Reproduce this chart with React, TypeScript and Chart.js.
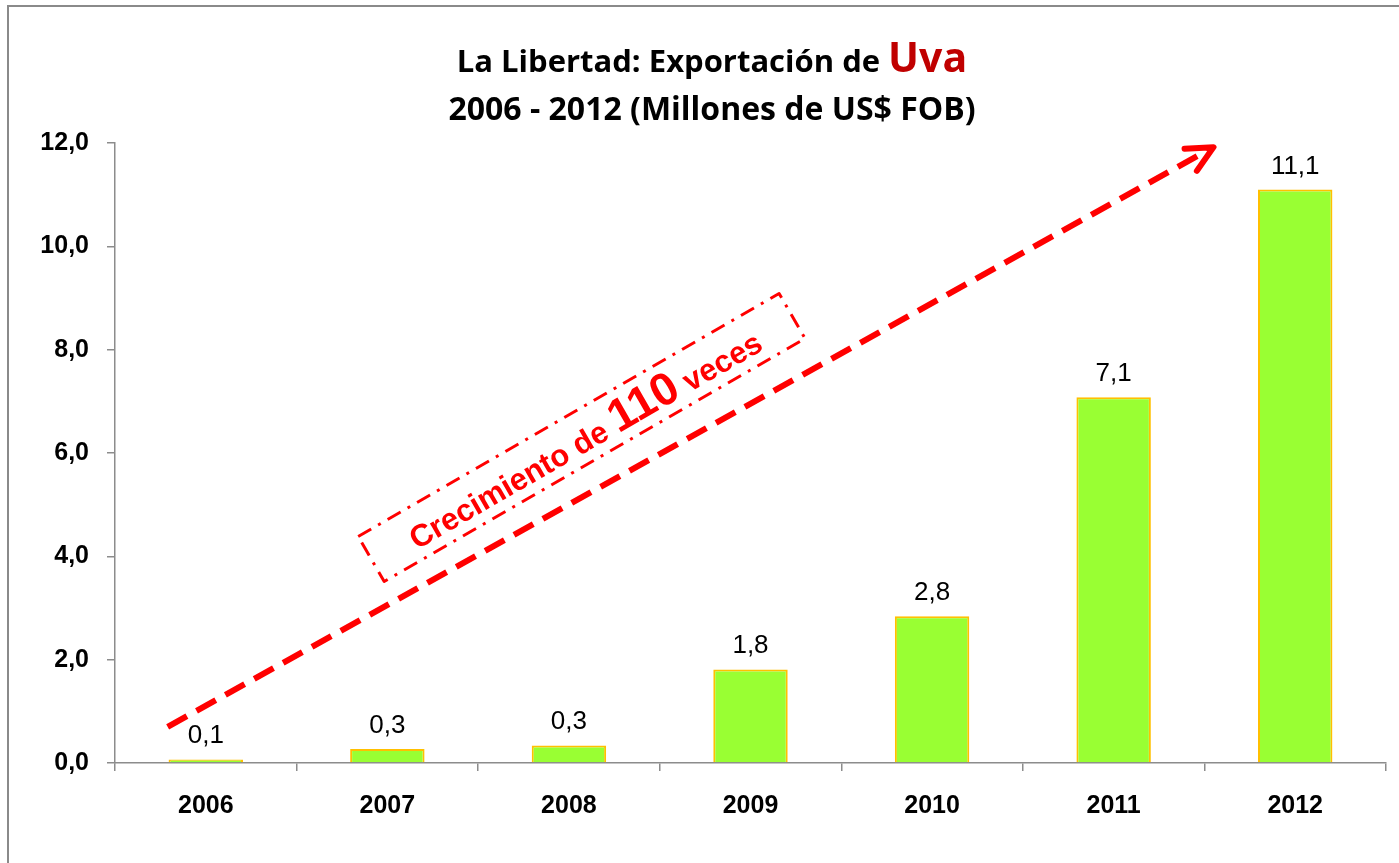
import React, { useEffect, useRef } from 'react';
import { Chart, registerables } from 'chart.js';

Chart.register(...registerables);

const categories = ['2006', '2007', '2008', '2009', '2010', '2011', '2012'];
const exportValues = [0.07, 0.27, 0.34, 1.81, 2.84, 7.08, 11.1];
const yMin = 0;
const yMax = 12;
const yStep = 2;
const titleLine1 = 'La Libertad: Exportación de ';
const titleHighlight = 'Uva';
const titleLine2 = '2006 - 2012 (Millones de US$ FOB)';
const growthPrefix = 'Crecimiento de ';
const growthNumber = '110';
const growthSuffix = ' veces';

const fmt = (v: number) => v.toFixed(1).replace('.', ',');

const BAR_FILL = '#99FF33';
const BAR_BORDER = '#FFC000';
const RED = '#FF0000';
const DARK_RED = '#C00000';
const AXIS_GRAY = '#8C8C8C';
const SANS = '"Liberation Sans", Arial, sans-serif';
const TITLE_FONT = '"Open Sans", sans-serif';

const frameAndTitlePlugin = {
  id: 'frameAndTitle',
  beforeDraw(chart: any) {
    const ctx = chart.ctx;
    ctx.save();
    ctx.fillStyle = '#ffffff';
    ctx.fillRect(0, 0, chart.width, chart.height);
    ctx.strokeStyle = '#8A8A8A';
    ctx.lineWidth = 2;
    ctx.strokeRect(8, 6, chart.width + 20, chart.height + 20);
    ctx.restore();
  },
  afterDraw(chart: any) {
    const ctx = chart.ctx;
    ctx.save();
    const cx = 712;
    ctx.textBaseline = 'alphabetic';
    const f1 = `bold 31px ${TITLE_FONT}`;
    const f1b = `bold 41px ${TITLE_FONT}`;
    ctx.font = f1;
    const w1 = ctx.measureText(titleLine1).width;
    ctx.font = f1b;
    const w2 = ctx.measureText(titleHighlight).width;
    const start = cx - (w1 + w2) / 2;
    ctx.textAlign = 'left';
    ctx.font = f1;
    ctx.fillStyle = '#000000';
    ctx.fillText(titleLine1, start, 72);
    ctx.font = f1b;
    ctx.fillStyle = DARK_RED;
    ctx.fillText(titleHighlight, start + w1, 72);
    ctx.font = `bold 32px ${TITLE_FONT}`;
    ctx.fillStyle = '#000000';
    ctx.textAlign = 'center';
    ctx.fillText(titleLine2, cx, 120);
    ctx.restore();
  },
};

const valueLabelPlugin = {
  id: 'valueLabels',
  afterDatasetsDraw(chart: any) {
    const ctx = chart.ctx;
    const meta = chart.getDatasetMeta(0);
    ctx.save();
    ctx.font = `26px ${SANS}`;
    ctx.fillStyle = '#000000';
    ctx.textAlign = 'center';
    ctx.textBaseline = 'alphabetic';
    meta.data.forEach((bar: any, i: number) => {
      ctx.fillText(fmt(exportValues[i]), bar.x, bar.y - 16);
    });
    ctx.restore();
  },
};

const growthAnnotationPlugin = {
  id: 'growthAnnotation',
  afterDatasetsDraw(chart: any) {
    const ctx = chart.ctx;
    const xs = chart.scales.x;
    const ys = chart.scales.y;
    const x1 = xs.getPixelForValue(-0.21);
    const y1 = ys.getPixelForValue(0.7);
    const x2 = xs.getPixelForValue(5.55);
    const y2 = ys.getPixelForValue(11.92);
    const ang = Math.atan2(y2 - y1, x2 - x1);
    ctx.save();
    ctx.strokeStyle = RED;
    ctx.lineWidth = 6;
    ctx.setLineDash([22, 11]);
    ctx.lineCap = 'butt';
    ctx.beginPath();
    ctx.moveTo(x1, y1);
    ctx.lineTo(x2 - 4 * Math.cos(ang), y2 - 4 * Math.sin(ang));
    ctx.stroke();
    ctx.setLineDash([]);
    ctx.lineCap = 'round';
    ctx.lineJoin = 'round';
    const back = ang + Math.PI;
    const arm = 29;
    const spread = (26 * Math.PI) / 180;
    ctx.beginPath();
    ctx.moveTo(x2 + arm * Math.cos(back - spread), y2 + arm * Math.sin(back - spread));
    ctx.lineTo(x2, y2);
    ctx.lineTo(x2 + arm * Math.cos(back + spread), y2 + arm * Math.sin(back + spread));
    ctx.stroke();

    const bx = xs.getPixelForValue(2.07);
    const by = ys.getPixelForValue(6.3);
    const boxAng = (-30 * Math.PI) / 180;
    ctx.translate(bx, by);
    ctx.rotate(boxAng);
    ctx.lineCap = 'butt';
    ctx.lineWidth = 3;
    ctx.setLineDash([15, 8, 3, 8]);
    ctx.strokeRect(-243, -26, 486, 52);
    ctx.setLineDash([]);
    const fs = `bold 31px ${SANS}`;
    const fb = `bold 46px ${SANS}`;
    ctx.font = fs;
    const wa = ctx.measureText(growthPrefix).width;
    const wc = ctx.measureText(growthSuffix).width;
    ctx.font = fb;
    const wb = ctx.measureText(growthNumber).width;
    let sx = -(wa + wb + wc) / 2 + 2;
    const base = 15;
    ctx.fillStyle = RED;
    ctx.textAlign = 'left';
    ctx.textBaseline = 'alphabetic';
    ctx.font = fs;
    ctx.fillText(growthPrefix, sx, base);
    sx += wa;
    ctx.font = fb;
    ctx.fillText(growthNumber, sx, base);
    sx += wb;
    ctx.font = fs;
    ctx.fillText(growthSuffix, sx, base);
    ctx.restore();
  },
};

export default function App() {
  const ref = useRef<HTMLCanvasElement | null>(null);

  useEffect(() => {
    if (!ref.current) return;
    const chart = new Chart(ref.current, {
      type: 'bar',
      data: {
        labels: categories,
        datasets: [
          {
            data: exportValues,
            backgroundColor: BAR_FILL,
            borderColor: BAR_BORDER,
            borderWidth: 2,
            barPercentage: 0.41,
            categoryPercentage: 1,
          },
        ],
      },
      options: {
        responsive: false,
        animation: false,
        devicePixelRatio: 1,
        layout: { padding: { top: 143, right: 13, left: 0, bottom: 0 } },
        plugins: {
          legend: { display: false },
          title: { display: false },
          tooltip: { enabled: false },
        },
        scales: {
          x: {
            offset: true,
            grid: {
              offset: true,
              drawOnChartArea: false,
              drawTicks: true,
              tickLength: 8,
              color: AXIS_GRAY,
              lineWidth: 1.5,
            },
            border: { display: true, color: AXIS_GRAY, width: 1.5 },
            ticks: {
              color: '#000000',
              font: { family: SANS, size: 25, weight: 'bold' },
              padding: 20,
              maxRotation: 0,
            },
            afterFit: (scale: any) => {
              scale.height = 100;
            },
          },
          y: {
            min: yMin,
            max: yMax,
            grid: {
              drawOnChartArea: false,
              drawTicks: true,
              tickLength: 8,
              color: AXIS_GRAY,
              lineWidth: 1.5,
            },
            border: { display: true, color: AXIS_GRAY, width: 1.5 },
            ticks: {
              stepSize: yStep,
              color: '#000000',
              font: { family: SANS, size: 25, weight: 'bold' },
              padding: 18,
              callback: (v: any) => fmt(Number(v)),
            },
            afterFit: (scale: any) => {
              scale.width = 115;
            },
          },
        },
      },
      plugins: [frameAndTitlePlugin, valueLabelPlugin, growthAnnotationPlugin],
    });
    return () => chart.destroy();
  }, []);

  return (
    <div style={{ position: 'fixed', left: 0, top: 0, width: 1399, height: 863, background: '#fff' }}>
      <canvas ref={ref} width={1399} height={863} style={{ display: 'block' }} />
    </div>
  );
}
